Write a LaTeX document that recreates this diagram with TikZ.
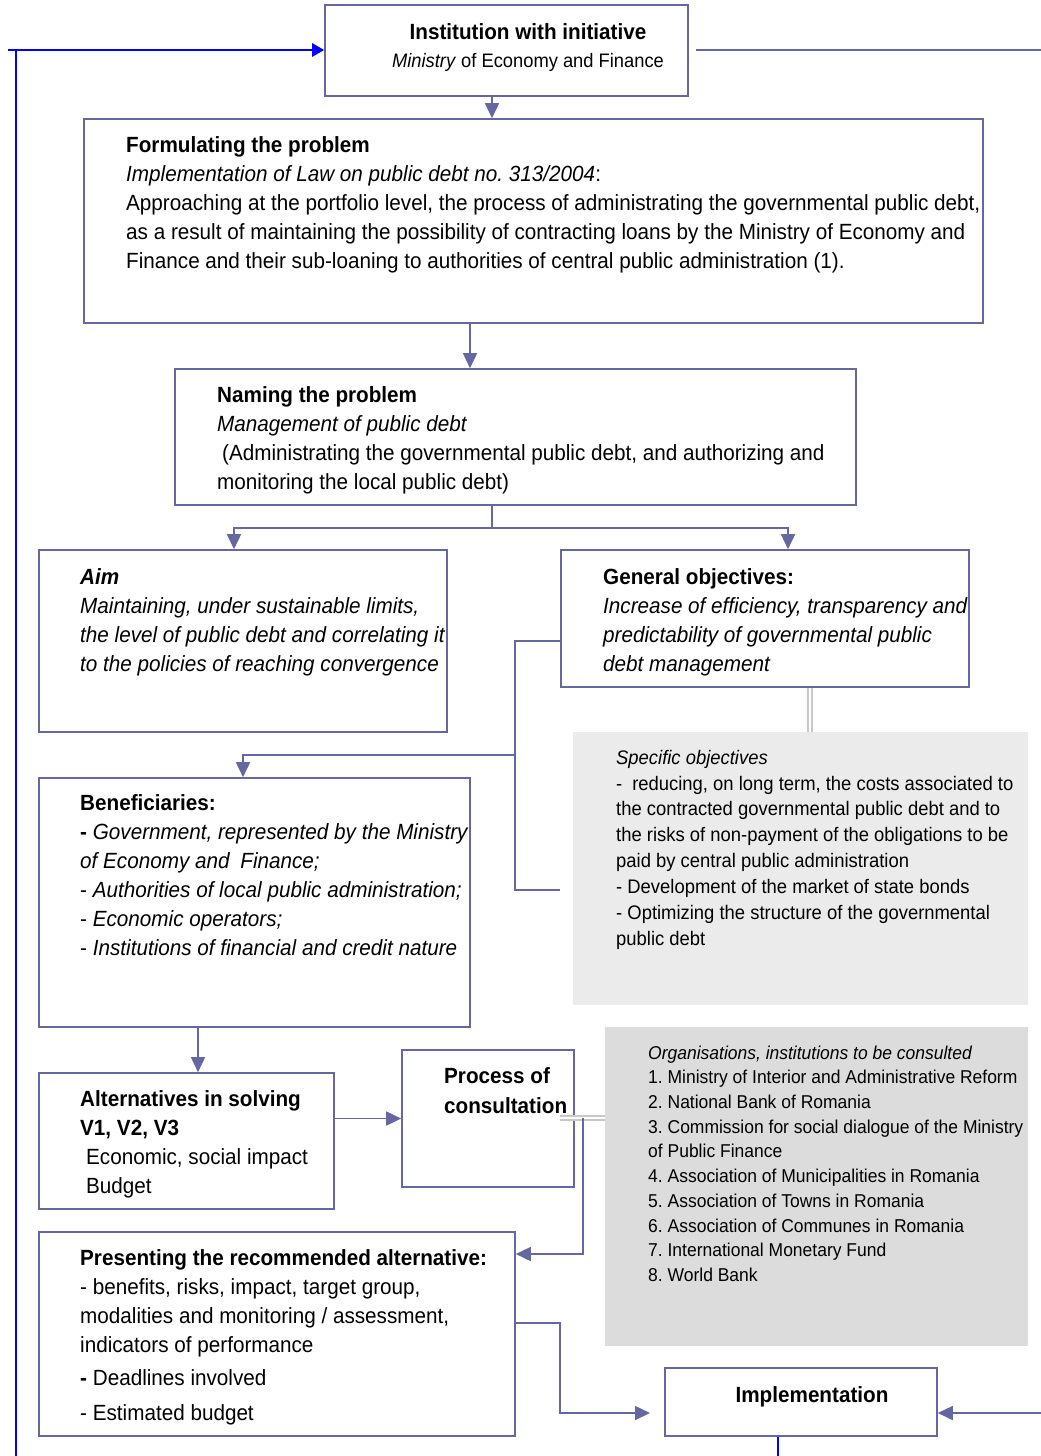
\documentclass[tikz,border=0pt]{standalone}
\usepackage{fontspec}
\setmainfont{Liberation Sans}[FakeStretch=0.94]
\usetikzlibrary{arrows.meta}
\definecolor{edge}{RGB}{102,102,160}
\definecolor{pale}{RGB}{235,235,235}
\definecolor{paler}{RGB}{220,220,220}
\definecolor{rail}{RGB}{200,200,200}
\frenchspacing
\begin{document}
\begin{tikzpicture}[x=1pt,y=-1pt,
  panel/.style={draw=edge,line width=1.6pt,fill=white,inner sep=0pt},
  shade/.style={fill=#1,inner sep=0pt},
  txt/.style={anchor=north west,inner sep=0pt,align=left,font=\fontsize{22}{29}\selectfont},
  stxt/.style={txt,font=\fontsize{19.6}{25.9}\selectfont},
  otxt/.style={txt,font=\fontsize{18.6}{24.7}\selectfont},
  link/.style={draw=edge,line width=1.6pt},
  arr/.style={link,-{Triangle[length=15pt,width=14pt]}},
  rails/.style={draw=rail,line width=1.6pt,double=white,double distance=2.4pt},
  blue/.style={draw=blue,line width=1.6pt}]
\useasboundingbox (0,0) rectangle (1041,1456);
\fill[white] (0,0) rectangle (1041,1456);

% boxes
\node[panel,minimum width=363pt,minimum height=91pt] (inst) at (506.5,50.5) {};
\node[panel,minimum width=899pt,minimum height=204pt] (form) at (533.5,221) {};
\node[panel,minimum width=681pt,minimum height=136pt] (name) at (515.5,437) {};
\node[panel,minimum width=408pt,minimum height=182pt] (aim) at (243,641) {};
\node[panel,minimum width=408pt,minimum height=137pt] (gen) at (765,618.5) {};
\node[shade=pale,minimum width=455pt,minimum height=273pt] (spec) at (800.5,868.5) {};
\node[panel,minimum width=431pt,minimum height=249pt] (ben) at (254.5,902.5) {};
\node[panel,minimum width=295pt,minimum height=136pt] (alt) at (186.5,1141) {};
\node[panel,minimum width=172pt,minimum height=137pt] (proc) at (488,1118.5) {};
\node[shade=paler,minimum width=423pt,minimum height=319pt] (org) at (816.5,1186.5) {};
\node[panel,minimum width=476pt,minimum height=204pt] (pres) at (277,1334) {};
\node[panel,minimum width=272pt,minimum height=68pt] (impl) at (801,1402) {};

% bend points
\coordinate (split) at (492,528);
\coordinate (jA) at (515,641);
\coordinate (jB) at (515,890);
\coordinate (jC) at (515,755);
\coordinate (jE) at (560,1118);
\coordinate (jF) at (583,1118);
\coordinate (jG) at (583,1254);
\coordinate (jH) at (560,1323);
\coordinate (jI) at (560,1413);
\coordinate (jJ) at (650,1413);
\coordinate (jK) at (1041,1413);
\coordinate (jL) at (696,50);
\coordinate (jM) at (1041,50);
\coordinate (bl0) at (8,50);
\coordinate (bl1) at (16,50);
\coordinate (bl2) at (16,1456);
\coordinate (bl3) at (778,1456);

% connectors
\draw[arr] ([xshift=-14.5pt]inst.south) -- ([xshift=-14.5pt]inst.south |- form.north);
\draw[arr] ([xshift=-63.5pt]form.south) -- ([xshift=-63.5pt]form.south |- name.north);
\draw[link] (split |- name.south) -- (split);
\draw[arr] (split) -| ([xshift=-9pt]aim.north);
\draw[arr] (split) -| ([xshift=23pt]gen.north);
\draw[link] (jA -| gen.west) -- (jA) -- (jB) -- (jB -| gen.west);
\draw[arr] (jC) -| ([xshift=-11.5pt]ben.north);
\draw[rails] ([xshift=45pt]gen.south) -- ([xshift=45pt]gen.south |- spec.north);
\draw[arr] ([xshift=-56.5pt]ben.south) -- ([xshift=-56.5pt]ben.south |- alt.north);
\draw[arr] (alt.east |- proc.west) -- (proc.west);
\draw[rails] (jE) -- (jE -| org.west);
\draw[arr] (jF) -- (jG) -- (jG -| pres.east);
\draw[arr] (jH -| pres.east) -- (jH) -- (jI) -- (jJ);
\draw[arr] (jK) -- (jK -| impl.east);
\draw[link] (jL) -- (jM);
\draw[blue,line width=2.8pt,-{Triangle[length=12pt,width=13pt]}] (bl0) -- (bl0 -| inst.west);
\draw[blue] (bl1) -- (bl2);
\draw[blue] ([xshift=-23pt]impl.south) -- (bl3);

% texts
\node[txt,anchor=north,align=center] (tinst) at (528,18.7)
  {\strut\textbf{Institution with initiative}\\[-1pt]{\fontsize{19.5}{29}\selectfont\textit{Ministry} of Economy and Finance}};
\node[txt] (tform) at (126,131.7) {\strut\textbf{Formulating the problem}\\
  \textit{Implementation of Law on public debt no. 313/2004}:\\
  Approaching at the portfolio level, the process of administrating the governmental public debt,\\
  as a result of maintaining the possibility of contracting loans by the Ministry of Economy and\\
  Finance and their sub-loaning to authorities of central public administration (1).};
\node[txt] (tname) at (217,381.7) {\strut\textbf{Naming the problem}\\
  \textit{Management of public debt}\\
  \hspace*{5pt}(Administrating the governmental public debt, and authorizing and\\
  monitoring the local public debt)};
\node[txt] (taim) at (80,563.7) {\strut\textbf{\textit{Aim}}\\
  \textit{Maintaining, under sustainable limits,}\\
  \textit{the level of public debt and correlating it}\\
  \textit{to the policies of reaching convergence}};
\node[txt] (tgen) at (603,563.7) {\strut\textbf{General objectives:}\\
  \textit{Increase of efficiency, transparency and}\\
  \textit{predictability of governmental public}\\
  \textit{debt management}};
\node[stxt] (tspec) at (616,745.8) {\strut\textit{Specific objectives}\\
  -\hspace*{10pt}reducing, on long term, the costs associated to\\
  the contracted governmental public debt and to\\
  the risks of non-payment of the obligations to be\\
  paid by central public administration\\
  - Development of the market of state bonds\\
  - Optimizing the structure of the governmental\\
  public debt};
\node[txt] (tben) at (80,789.7) {\strut\textbf{Beneficiaries:}\\
  \textbf{-} \textit{Government, represented by the Ministry}\\
  \textit{of Economy and\hspace*{5pt} Finance;}\\
  - \textit{Authorities of local public administration;}\\
  - \textit{Economic operators;}\\
  - \textit{Institutions of financial and credit nature}};
\node[txt] (talt) at (80,1085.7) {\strut\textbf{Alternatives in solving}\\
  \textbf{V1, V2, V3}\\
  \hspace*{6pt}Economic, social impact\\
  \hspace*{6pt}Budget};
\node[txt,font=\fontsize{22}{30}\selectfont] (tproc) at (444,1062) {\strut\textbf{Process of}\\
  \textbf{consultation}};
\node[otxt] (torg) at (648,1041.6) {\strut\textit{Organisations, institutions to be consulted}\\
  1. Ministry of Interior and Administrative Reform\\
  2. National Bank of Romania\\
  3. Commission for social dialogue of the Ministry\\
  of Public Finance\\
  4. Association of Municipalities in Romania\\
  5. Association of Towns in Romania\\
  6. Association of Communes in Romania\\
  7. International Monetary Fund\\
  8. World Bank};
\node[txt] (tpres) at (80,1244.7) {\strut\textbf{Presenting the recommended alternative:}\\
  - benefits, risks, impact, target group,\\
  modalities and monitoring / assessment,\\
  indicators of performance\\[4pt]
  \textbf{-} Deadlines involved\\[6pt]
  - Estimated budget};
\node[txt,anchor=base] (timpl) at (812,1402) {\textbf{Implementation}};
\end{tikzpicture}
\end{document}
